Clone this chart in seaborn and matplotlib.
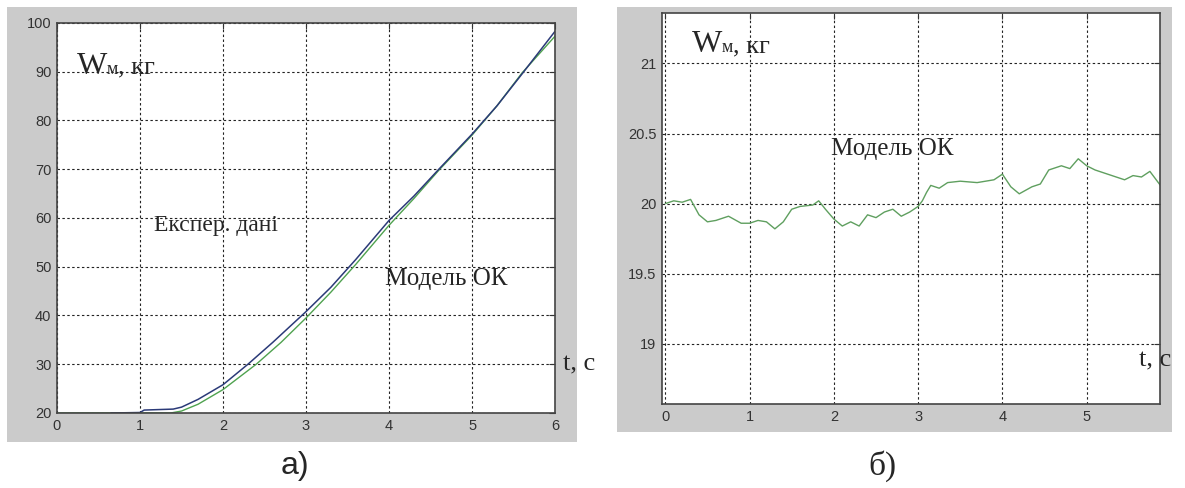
import pandas as pd
import matplotlib.pyplot as plt
from matplotlib.patches import Rectangle
import seaborn as sns

# ---- data ----

# panel a): experimental data (blue) and model (green)
t_exp = [0.65, 1.0, 1.05, 1.4, 1.5, 1.7, 2.0, 2.3, 2.6, 3.0, 3.3, 3.6,
         4.0, 4.3, 4.6, 5.0, 5.3, 5.6, 6.0]
w_exp = [20.0, 20.1, 20.6, 20.8, 21.2, 22.8, 25.8, 30.0, 34.5, 40.8, 45.8, 51.5,
         59.5, 64.5, 70.0, 77.2, 83.0, 89.5, 98.3]

t_mod = [0.0, 1.37, 1.5, 1.7, 2.0, 2.4, 2.7, 3.0, 3.3, 3.6,
         4.0, 4.3, 4.6, 5.0, 5.3, 5.6, 6.0]
w_mod = [20.0, 20.0, 20.4, 21.8, 24.8, 30.0, 34.5, 39.5, 44.8, 50.5,
         58.5, 64.0, 69.8, 77.0, 83.0, 89.7, 97.3]

# panel b): model only
t_b = [0.0, 0.1, 0.2, 0.3, 0.4, 0.5, 0.6, 0.75, 0.9, 1.0, 1.1, 1.2, 1.3, 1.4,
       1.5, 1.6, 1.75, 1.82, 1.9, 2.0, 2.1, 2.2, 2.3, 2.4, 2.5, 2.6, 2.7, 2.8,
       2.9, 3.0, 3.05, 3.1, 3.15, 3.25, 3.35, 3.5, 3.7, 3.9, 4.0, 4.1, 4.2,
       4.35, 4.45, 4.55, 4.7, 4.8, 4.9, 5.0, 5.1, 5.3, 5.45, 5.55, 5.65, 5.75,
       5.85, 5.95]
w_b = [20.0, 20.02, 20.01, 20.03, 19.92, 19.87, 19.88, 19.91, 19.86, 19.86,
       19.88, 19.87, 19.82, 19.87, 19.96, 19.98, 19.99, 20.02, 19.96, 19.89,
       19.84, 19.87, 19.84, 19.92, 19.90, 19.94, 19.96, 19.91, 19.94, 19.98,
       20.02, 20.08, 20.13, 20.11, 20.15, 20.16, 20.15, 20.17, 20.21, 20.12,
       20.07, 20.12, 20.14, 20.24, 20.27, 20.25, 20.32, 20.27, 20.24, 20.20,
       20.17, 20.20, 20.19, 20.23, 20.15, 20.07]

a_xticks = [0, 1, 2, 3, 4, 5, 6]
a_yticks = [20, 30, 40, 50, 60, 70, 80, 90, 100]
b_xticks = [0, 1, 2, 3, 4, 5]
b_yticks = [19, 19.5, 20, 20.5, 21]
b_ylabels = ["19", "19.5", "20", "20.5", "21"]

df_exp = pd.DataFrame({"t": t_exp, "w": w_exp})
df_mod = pd.DataFrame({"t": t_mod, "w": w_mod})
df_b = pd.DataFrame({"t": t_b, "w": w_b})

sns.set_theme(style="white")
serif = "Liberation Serif"
sans = "Liberation Sans"

fig = plt.figure(figsize=(11.85, 4.88), dpi=100, facecolor="white")

# grey matlab-like figure backgrounds
fig.add_artist(Rectangle((0.0059, 0.0943), 0.481, 0.8914, transform=fig.transFigure,
                         facecolor="#cbcbcb", edgecolor="none", zorder=-1))
fig.add_artist(Rectangle((0.5207, 0.1148), 0.4684, 0.8709, transform=fig.transFigure,
                         facecolor="#cbcbcb", edgecolor="none", zorder=-1))

ax1 = fig.add_axes([0.0481, 0.1537, 0.4203, 0.7992])
ax2 = fig.add_axes([0.5586, 0.1721, 0.4203, 0.8012])

sns.lineplot(data=df_mod, x="t", y="w", ax=ax1, color="#4fa24f", lw=1.0, estimator=None)
sns.lineplot(data=df_exp, x="t", y="w", ax=ax1, color="#2b3a78", lw=1.1, estimator=None)
sns.lineplot(data=df_b, x="t", y="w", ax=ax2, color="#5f9f5f", lw=1.0, estimator=None)

ax1.set_xlim(0, 6)
ax1.set_ylim(20, 100)
ax1.set_xticks(a_xticks)
ax1.set_yticks(a_yticks)

ax2.set_xlim(-0.04, 5.87)
ax2.set_ylim(18.57, 21.36)
ax2.set_xticks(b_xticks)
ax2.set_yticks(b_yticks)
ax2.set_yticklabels(b_ylabels)

for ax in (ax1, ax2):
    ax.set_facecolor("white")
    ax.set_xlabel("")
    ax.set_ylabel("")
    ax.grid(True, color="#222222", linestyle=(0, (2.2, 2.2)), linewidth=0.8)
    ax.tick_params(direction="in", length=4, width=0.8, colors="#333333",
                   labelsize=10.5, pad=4, top=True, right=True)
    for lab in ax.get_xticklabels() + ax.get_yticklabels():
        lab.set_family(sans)
        lab.set_color("#333333")
    for sp in ax.spines.values():
        sp.set_color("#444444")
        sp.set_linewidth(1.2)


def w_label(ax, x, y):
    ax.text(x, y, "W", fontsize=23, family=serif, va="baseline")
    ax.annotate("м", xy=(x, y), xytext=(21.5, 0), textcoords="offset points",
                fontsize=13, family=serif, va="baseline")
    ax.annotate(", кг", xy=(x, y), xytext=(29.5, 0), textcoords="offset points",
                fontsize=19, family=serif, va="baseline")


w_label(ax1, 0.24, 89.6)
ax1.text(1.17, 58.5, "Експер. дані", fontsize=17, family=serif, va="center")
ax1.text(3.95, 47.5, "Модель ОК", fontsize=18, family=serif, va="center")
ax1.text(6.1, 30, "t, c", fontsize=19, family=serif, va="center", clip_on=False)

w_label(ax2, 0.32, 21.08)
ax2.text(1.97, 20.39, "Модель ОК", fontsize=18, family=serif, va="center")
ax2.text(5.62, 18.88, "t, c", fontsize=19, family=serif, va="center", clip_on=False)

fig.text(0.249, 0.045, "а)", fontsize=23, family=sans, ha="center", va="center")
fig.text(0.745, 0.045, "б)", fontsize=24, family=serif, ha="center", va="center")

fig.savefig("out.png", dpi=100)
